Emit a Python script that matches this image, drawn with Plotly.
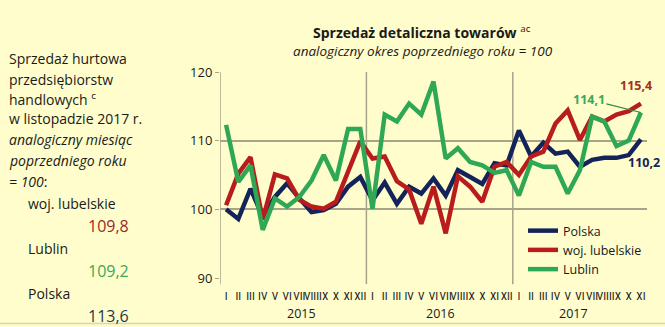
import plotly.graph_objects as go

roman = ["I", "II", "III", "IV", "V", "VI", "VII", "VIII", "IX", "X", "XI", "XII"]
years = ["2015", "2016", "2017"]
months_per_year = [12, 12, 11]
tick_labels = roman * 2 + roman[:11]

polska = [100.0, 98.6, 103.0, 98.9, 101.8, 103.8, 101.6, 99.6, 99.9, 100.8, 103.3, 104.7,
          101.3, 103.9, 100.8, 103.3, 102.3, 104.5, 102.0, 105.7, 104.7, 103.7, 106.7, 106.4,
          111.5, 107.7, 109.7, 108.1, 108.4, 106.2, 107.2, 107.5, 107.5, 107.9, 110.2]
lubelskie = [100.6, 105.2, 107.6, 98.5, 105.1, 104.5, 101.4, 100.4, 100.1, 101.1, 105.5, 109.9,
             107.4, 107.7, 104.1, 102.9, 97.9, 103.3, 96.5, 104.8, 103.3, 101.1, 106.2, 106.9,
             105.0, 107.7, 108.4, 112.5, 114.4, 110.1, 113.5, 112.8, 113.8, 114.3, 115.4]
lublin = [112.3, 104.0, 106.4, 97.0, 101.6, 100.4, 101.8, 104.2, 107.9, 104.2, 111.7, 111.7,
          100.1, 113.8, 112.8, 115.4, 113.8, 118.6, 107.4, 108.9, 106.9, 106.4, 105.3, 105.7,
          102.0, 106.9, 106.2, 106.2, 102.3, 105.7, 113.5, 112.8, 109.2, 110.0, 114.1]

series_names = ["Polska", "woj. lubelskie", "Lublin"]
series_colors = ["#14245a", "#b81c1c", "#2fa855"]
label_colors = ["#14245a", "#a3321c", "#3aa85a"]

side_text = ["Sprzedaż hurtowa", "przedsiębiorstw", "handlowych <sup>c</sup>",
             "w listopadzie 2017 r.", "<i>analogiczny miesiąc</i>",
             "<i>poprzedniego roku</i>", "<i>= 100</i>:"]
side_names = ["woj. lubelskie", "Lublin", "Polska"]
side_values = ["109,8", "109,2", "113,6"]
side_colors = ["#a02a1c", "#3aa85a", "#1f3a4a"]

BG = "#fffdcc"
GRID = "#a8a48a"
x = list(range(len(polska)))

fig = go.Figure()
for name, vals, col in zip(series_names, [polska, lubelskie, lublin], series_colors):
    fig.add_trace(go.Scatter(x=x, y=vals, mode="lines", name=name,
                             line=dict(color=col, width=4.5)))

W, H = 665, 327
L, R, T, B = 220, 18, 72, 49
pw, ph = W - L - R, H - T - B

def px_x(p):
    return (p - L) / pw

def px_y(p):
    return (H - B - p) / ph

ann = []
font_side = dict(family="Open Sans", size=14, color="#1a1a1a")
ys = [58, 79, 99, 118, 139, 160, 181]
for t, yy in zip(side_text, ys):
    ann.append(dict(text=t, x=px_x(7), y=px_y(yy), xref="paper", yref="paper",
                    xanchor="left", yanchor="middle", showarrow=False, font=font_side))
for i, (n, v, c) in enumerate(zip(side_names, side_values, side_colors)):
    ann.append(dict(text=n, x=px_x(26), y=px_y(203 + 45 * i), xref="paper", yref="paper",
                    xanchor="left", yanchor="middle", showarrow=False, font=font_side))
    ann.append(dict(text=v, x=px_x(86), y=px_y(226 + 45 * i), xref="paper", yref="paper",
                    xanchor="left", yanchor="middle", showarrow=False,
                    font=dict(family="Open Sans", size=16, color=c)))

# titles
ann.append(dict(text="<b>Sprzedaż detaliczna towarów</b> <sup>ac</sup>", x=px_x(422), y=px_y(32),
                xref="paper", yref="paper", xanchor="center", yanchor="middle", showarrow=False,
                font=dict(family="Open Sans", size=14, color="#1a1a1a")))
ann.append(dict(text="<i>analogiczny okres poprzedniego roku = 100</i>", x=px_x(423), y=px_y(51),
                xref="paper", yref="paper", xanchor="center", yanchor="middle", showarrow=False,
                font=dict(family="Open Sans", size=13.5, color="#1a1a1a")))

# year labels
year_pos = [6.2, 17.6, 28.5]
for yr, xp in zip(years, year_pos):
    ann.append(dict(text=yr, x=xp, y=px_y(313), xref="x", yref="paper", xanchor="center",
                    yanchor="middle", showarrow=False,
                    font=dict(family="Open Sans", size=12.5, color="#1a1a1a")))

# end value labels
last = len(polska) - 1
ann.append(dict(text="<b>115,4</b>", x=last, y=lubelskie[-1], xref="x", yref="y",
                xanchor="center", yanchor="middle", showarrow=False, xshift=-5, yshift=18,
                font=dict(family="Open Sans", size=12.5, color=label_colors[1])))
ann.append(dict(text="<b>114,1</b>", x=last, y=lublin[-1], xref="x", yref="y",
                showarrow=True, arrowhead=0, arrowwidth=1.2, arrowcolor="#2f8a4a",
                ax=-52, ay=-13, xanchor="center", yanchor="middle",
                font=dict(family="Open Sans", size=12.5, color=label_colors[2])))
ann.append(dict(text="<b>110,2</b>", x=last, y=polska[-1], xref="x", yref="y",
                xanchor="center", yanchor="middle", showarrow=False, xshift=3, yshift=-23,
                font=dict(family="Open Sans", size=12.5, color=label_colors[0])))

shapes = []
cum = 0
for m in months_per_year[:-1]:
    cum += m
    shapes.append(dict(type="line", xref="x", yref="paper", x0=cum - 0.5, x1=cum - 0.5,
                       y0=-0.03, y1=1, line=dict(color=GRID, width=1.5), layer="below"))
shapes.append(dict(type="line", xref="x", yref="paper", x0=-0.5, x1=-0.5, y0=-0.03, y1=1,
                   line=dict(color=GRID, width=1.5), layer="below"))
shapes.append(dict(type="line", xref="paper", yref="paper", x0=px_x(0), x1=px_x(W),
                   y0=px_y(323.5), y1=px_y(323.5), line=dict(color="#d6d8b0", width=1.5)))

fig.update_layout(
    width=W, height=H,
    margin=dict(l=L, r=R, t=T, b=B),
    paper_bgcolor=BG, plot_bgcolor=BG,
    showlegend=True,
    legend=dict(x=px_x(523), y=px_y(216), xanchor="left", yanchor="top",
                bgcolor="rgba(0,0,0,0)", font=dict(family="Open Sans", size=12.5, color="#1a1a1a"),
                tracegroupgap=0, itemwidth=30),
    annotations=ann, shapes=shapes,
    xaxis=dict(range=[-0.5, last + 0.5], tickmode="array", tickvals=x, ticktext=tick_labels,
               tickangle=0, showgrid=False, zeroline=False, showline=False,
               tickfont=dict(family="Liberation Sans Narrow, Roboto Condensed, Roboto", size=11.5,
                             color="#1a1a1a"),
               ticks="", ticklen=0, ticklabelstandoff=9),
    yaxis=dict(range=[90, 120], tickvals=[90, 100, 110, 120], showgrid=True, gridcolor=GRID,
               gridwidth=1.5, zeroline=False, showline=False,
               tickfont=dict(family="Open Sans", size=13, color="#1a1a1a"),
               ticks="outside", ticklen=4, tickcolor=GRID),
    font=dict(family="Open Sans"),
)

fig.write_html("out.html")
